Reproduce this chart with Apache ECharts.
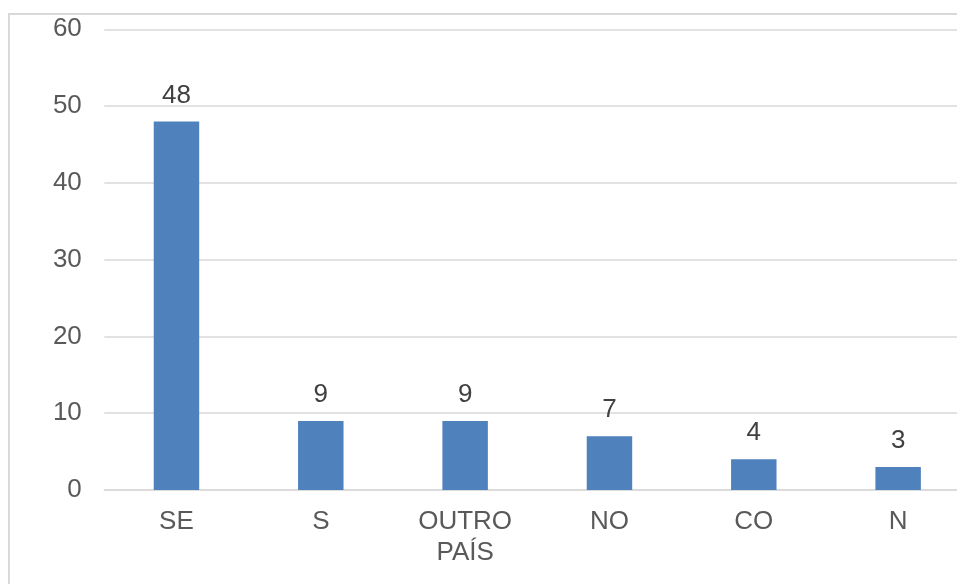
<!DOCTYPE html>
<html>
<head>
<meta charset="utf-8">
<script src="https://cdn.jsdelivr.net/npm/echarts@6/dist/echarts.min.js"></script>
<style>
  html, body { margin: 0; padding: 0; background: #fff; overflow: hidden; width: 957px; height: 584px; }
  /* o gráfico original está cortado à direita, por isso o div é mais largo */
  #myChart { width: 1000px; height: 584px; }
</style>
</head>
<body>
<div id="myChart"></div>
<script>
// dados do gráfico
var regioes = ["SE", "S", "OUTRO\nPAÍS", "NO", "CO", "N"];
var valores = [48, 9, 9, 7, 4, 3];
var yTicks = [0, 10, 20, 30, 40, 50, 60];

var fonte = "Liberation Sans, Arial, sans-serif";
var myChart = echarts.init(document.getElementById("myChart"));
var option = {
  animation: false,
  graphic: [
    {
      // moldura do gráfico
      type: "rect",
      shape: { x: 9, y: 14, width: 1100, height: 700 },
      style: { fill: "none", stroke: "#d9d9d9", lineWidth: 2 },
      silent: true
    }
  ],
  grid: {
    left: 104.3,
    top: 29.3,
    width: 866,
    height: 460.7,
    containLabel: false
  },
  xAxis: {
    type: "category",
    data: regioes,
    axisTick: { show: false },
    axisLine: { show: true, lineStyle: { color: "#d9d9d9", width: 1.5 } },
    axisLabel: {
      color: "#595959",
      fontSize: 26,
      fontFamily: fonte,
      lineHeight: 31,
      margin: 16,
      interval: 0
    }
  },
  yAxis: {
    type: "value",
    min: yTicks[0],
    max: yTicks[yTicks.length - 1],
    interval: 10,
    axisLine: { show: false },
    axisTick: { show: false },
    splitLine: { lineStyle: { color: "#d9d9d9", width: 1.5 } },
    axisLabel: {
      color: "#595959",
      fontSize: 26,
      fontFamily: fonte,
      margin: 22.5
    }
  },
  series: [
    {
      type: "bar",
      data: valores,
      barWidth: "31.5%",
      itemStyle: { color: "#4f81bd" },
      label: {
        show: true,
        position: "top",
        distance: 13,
        color: "#404040",
        fontSize: 26,
        fontFamily: fonte
      }
    }
  ]
};
myChart.setOption(option);
</script>
</body>
</html>
